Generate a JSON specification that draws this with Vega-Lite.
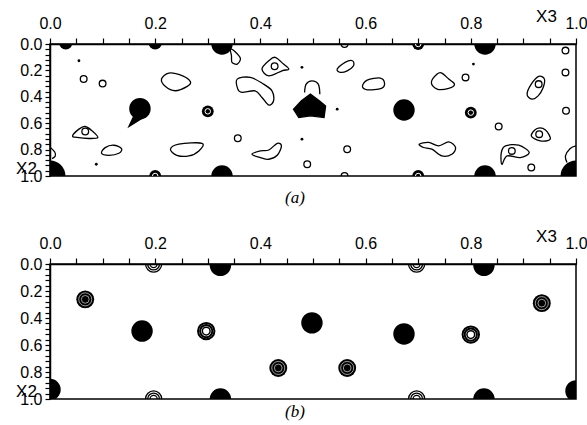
{
  "$schema": "https://vega.github.io/schema/vega-lite/v6.json",
  "background": "white",
  "padding": {"left": 14, "top": 6, "right": 4, "bottom": 2},
  "spacing": 19,
  "config": {
    "view": {"stroke": "black", "strokeWidth": 1.5},
    "axis": {"domainColor": "black", "domainWidth": 1.5, "tickColor": "black", "tickWidth": 1.2, "grid": false,
             "labelFont": "Liberation Sans", "labelFontSize": 16, "labelColor": "black",
             "titleFont": "Liberation Sans", "titleFontSize": 17, "titleFontWeight": "normal", "titleColor": "black"},
    "title": {"font": "Liberation Serif", "fontStyle": "italic", "fontSize": 17, "fontWeight": "normal", "color": "black"}
  },
  "datasets": {
    "polyA": [
      {"p": 3, "o": 1, "x3": 0.212, "x2": 0.265}, {"p": 3, "o": 2, "x3": 0.226, "x2": 0.220}, {"p": 3, "o": 3, "x3": 0.251, "x2": 0.240}, {"p": 3, "o": 4, "x3": 0.267, "x2": 0.286}, {"p": 3, "o": 5, "x3": 0.261, "x2": 0.321}, {"p": 3, "o": 6, "x3": 0.238, "x2": 0.354}, {"p": 3, "o": 7, "x3": 0.219, "x2": 0.320},
      {"p": 4, "o": 1, "x3": 0.356, "x2": 0.266}, {"p": 4, "o": 2, "x3": 0.381, "x2": 0.253}, {"p": 4, "o": 3, "x3": 0.406, "x2": 0.304}, {"p": 4, "o": 4, "x3": 0.422, "x2": 0.355}, {"p": 4, "o": 5, "x3": 0.425, "x2": 0.430}, {"p": 4, "o": 6, "x3": 0.416, "x2": 0.463}, {"p": 4, "o": 7, "x3": 0.403, "x2": 0.405}, {"p": 4, "o": 8, "x3": 0.390, "x2": 0.355}, {"p": 4, "o": 9, "x3": 0.365, "x2": 0.367}, {"p": 4, "o": 10, "x3": 0.357, "x2": 0.342},
      {"p": 5, "o": 1, "x3": 0.343, "x2": 0.038}, {"p": 5, "o": 2, "x3": 0.352, "x2": 0.058}, {"p": 5, "o": 3, "x3": 0.362, "x2": 0.109}, {"p": 5, "o": 4, "x3": 0.356, "x2": 0.152}, {"p": 5, "o": 5, "x3": 0.346, "x2": 0.139}, {"p": 5, "o": 6, "x3": 0.345, "x2": 0.089},
      {"p": 6, "o": 1, "x3": 0.403, "x2": 0.190}, {"p": 6, "o": 2, "x3": 0.416, "x2": 0.127}, {"p": 6, "o": 3, "x3": 0.428, "x2": 0.101}, {"p": 6, "o": 4, "x3": 0.444, "x2": 0.152}, {"p": 6, "o": 5, "x3": 0.454, "x2": 0.190}, {"p": 6, "o": 6, "x3": 0.441, "x2": 0.203}, {"p": 6, "o": 7, "x3": 0.416, "x2": 0.241},
      {"p": 7, "o": 1, "x3": 0.043, "x2": 0.696}, {"p": 7, "o": 2, "x3": 0.055, "x2": 0.645}, {"p": 7, "o": 3, "x3": 0.067, "x2": 0.625}, {"p": 7, "o": 4, "x3": 0.080, "x2": 0.658}, {"p": 7, "o": 5, "x3": 0.091, "x2": 0.708}, {"p": 7, "o": 6, "x3": 0.074, "x2": 0.716}, {"p": 7, "o": 7, "x3": 0.051, "x2": 0.708},
      {"p": 8, "o": 1, "x3": 0.098, "x2": 0.828}, {"p": 8, "o": 2, "x3": 0.105, "x2": 0.785}, {"p": 8, "o": 3, "x3": 0.121, "x2": 0.767}, {"p": 8, "o": 4, "x3": 0.136, "x2": 0.792}, {"p": 8, "o": 5, "x3": 0.131, "x2": 0.828}, {"p": 8, "o": 6, "x3": 0.112, "x2": 0.843},
      {"p": 9, "o": 1, "x3": 0.229, "x2": 0.797}, {"p": 9, "o": 2, "x3": 0.245, "x2": 0.759}, {"p": 9, "o": 3, "x3": 0.289, "x2": 0.752}, {"p": 9, "o": 4, "x3": 0.283, "x2": 0.810}, {"p": 9, "o": 5, "x3": 0.264, "x2": 0.848}, {"p": 9, "o": 6, "x3": 0.241, "x2": 0.843},
      {"p": 11, "o": 1, "x3": 0.384, "x2": 0.835}, {"p": 11, "o": 2, "x3": 0.400, "x2": 0.810}, {"p": 11, "o": 3, "x3": 0.416, "x2": 0.803}, {"p": 11, "o": 4, "x3": 0.432, "x2": 0.752}, {"p": 11, "o": 5, "x3": 0.440, "x2": 0.772}, {"p": 11, "o": 6, "x3": 0.432, "x2": 0.843}, {"p": 11, "o": 7, "x3": 0.416, "x2": 0.873}, {"p": 11, "o": 8, "x3": 0.400, "x2": 0.860},
      {"p": 12, "o": 1, "x3": 0.546, "x2": 0.190}, {"p": 12, "o": 2, "x3": 0.561, "x2": 0.139}, {"p": 12, "o": 3, "x3": 0.575, "x2": 0.127}, {"p": 12, "o": 4, "x3": 0.577, "x2": 0.165}, {"p": 12, "o": 5, "x3": 0.565, "x2": 0.203}, {"p": 12, "o": 6, "x3": 0.552, "x2": 0.215},
      {"p": 13, "o": 1, "x3": 0.594, "x2": 0.321}, {"p": 13, "o": 2, "x3": 0.603, "x2": 0.273}, {"p": 13, "o": 3, "x3": 0.628, "x2": 0.258}, {"p": 13, "o": 4, "x3": 0.636, "x2": 0.296}, {"p": 13, "o": 5, "x3": 0.630, "x2": 0.336}, {"p": 13, "o": 6, "x3": 0.603, "x2": 0.347},
      {"p": 14, "o": 1, "x3": 0.725, "x2": 0.291}, {"p": 14, "o": 2, "x3": 0.736, "x2": 0.228}, {"p": 14, "o": 3, "x3": 0.745, "x2": 0.220}, {"p": 14, "o": 4, "x3": 0.758, "x2": 0.266}, {"p": 14, "o": 5, "x3": 0.769, "x2": 0.304}, {"p": 14, "o": 6, "x3": 0.758, "x2": 0.336}, {"p": 14, "o": 7, "x3": 0.736, "x2": 0.342},
      {"p": 16, "o": 1, "x3": 0.907, "x2": 0.380}, {"p": 16, "o": 2, "x3": 0.915, "x2": 0.304}, {"p": 16, "o": 3, "x3": 0.929, "x2": 0.245}, {"p": 16, "o": 4, "x3": 0.940, "x2": 0.266}, {"p": 16, "o": 5, "x3": 0.937, "x2": 0.336}, {"p": 16, "o": 6, "x3": 0.928, "x2": 0.393}, {"p": 16, "o": 7, "x3": 0.916, "x2": 0.418},
      {"p": 20, "o": 1, "x3": 0.915, "x2": 0.696}, {"p": 20, "o": 2, "x3": 0.926, "x2": 0.640}, {"p": 20, "o": 3, "x3": 0.942, "x2": 0.651}, {"p": 20, "o": 4, "x3": 0.951, "x2": 0.722}, {"p": 20, "o": 5, "x3": 0.932, "x2": 0.734},
      {"p": 22, "o": 1, "x3": 0.702, "x2": 0.759}, {"p": 22, "o": 2, "x3": 0.720, "x2": 0.746}, {"p": 22, "o": 3, "x3": 0.739, "x2": 0.772}, {"p": 22, "o": 4, "x3": 0.758, "x2": 0.742}, {"p": 22, "o": 5, "x3": 0.771, "x2": 0.784}, {"p": 22, "o": 6, "x3": 0.764, "x2": 0.835}, {"p": 22, "o": 7, "x3": 0.745, "x2": 0.848}, {"p": 22, "o": 8, "x3": 0.726, "x2": 0.797}, {"p": 22, "o": 9, "x3": 0.710, "x2": 0.784},
      {"p": 23, "o": 1, "x3": 0.858, "x2": 0.822}, {"p": 23, "o": 2, "x3": 0.866, "x2": 0.772}, {"p": 23, "o": 3, "x3": 0.891, "x2": 0.767}, {"p": 23, "o": 4, "x3": 0.911, "x2": 0.822}, {"p": 23, "o": 5, "x3": 0.894, "x2": 0.860}, {"p": 23, "o": 6, "x3": 0.869, "x2": 0.848}, {"p": 23, "o": 7, "x3": 0.859, "x2": 0.911}
    ],
    "openA": [
      {"p": 27, "o": 1, "x3": 0.484, "x2": 0.367}, {"p": 27, "o": 2, "x3": 0.487, "x2": 0.304}, {"p": 27, "o": 3, "x3": 0.498, "x2": 0.279}, {"p": 27, "o": 4, "x3": 0.510, "x2": 0.304}, {"p": 27, "o": 5, "x3": 0.513, "x2": 0.380},
      {"p": 30, "o": 1, "x3": 0.983, "x2": 0.898}, {"p": 30, "o": 2, "x3": 0.980, "x2": 0.848}, {"p": 30, "o": 3, "x3": 0.989, "x2": 0.792}, {"p": 30, "o": 4, "x3": 1.0, "x2": 0.772},
      {"p": 31, "o": 1, "x3": 0.001, "x2": 0.785}, {"p": 31, "o": 2, "x3": 0.009, "x2": 0.818}, {"p": 31, "o": 3, "x3": 0.010, "x2": 0.848}, {"p": 31, "o": 4, "x3": 0.004, "x2": 0.868}
    ],
    "fillPolyA": [
      {"p": 1, "o": 1, "x3": 0.463, "x2": 0.494}, {"p": 1, "o": 2, "x3": 0.478, "x2": 0.430}, {"p": 1, "o": 3, "x3": 0.495, "x2": 0.380}, {"p": 1, "o": 4, "x3": 0.512, "x2": 0.430}, {"p": 1, "o": 5, "x3": 0.524, "x2": 0.469}, {"p": 1, "o": 6, "x3": 0.521, "x2": 0.557}, {"p": 1, "o": 7, "x3": 0.495, "x2": 0.544}, {"p": 1, "o": 8, "x3": 0.473, "x2": 0.557},
      {"p": 2, "o": 1, "x3": 0.160, "x2": 0.540}, {"p": 2, "o": 2, "x3": 0.176, "x2": 0.560}, {"p": 2, "o": 3, "x3": 0.150, "x2": 0.625}
    ],
    "bigA": [
      {"x3": 0.327, "x2": 0.0}, {"x3": 0.171, "x2": 0.49}, {"x3": 0.673, "x2": 0.50}, {"x3": 0.827, "x2": 0.0},
      {"x3": 0.827, "x2": 1.0}, {"x3": 0.327, "x2": 1.0}
    ],
    "cornerA": [{"x3": 0.0, "x2": 1.0}, {"x3": 1.0, "x2": 1.0}],
    "smallFillA": [{"x3": 0.03, "x2": -0.01}, {"x3": 0.2, "x2": -0.01}],
    "ringBlobA": [{"x3": 0.30, "x2": 0.51}, {"x3": 0.80, "x2": 0.52}, {"x3": 0.70, "x2": 0.0}, {"x3": 0.70, "x2": 1.0}, {"x3": 0.2, "x2": 1.0}],
    "openCircA": [
      {"x3": 0.064, "x2": 0.265}, {"x3": 0.10, "x2": 0.30}, {"x3": 0.357, "x2": 0.714}, {"x3": 0.79, "x2": 0.253},
      {"x3": 0.98, "x2": 0.215}, {"x3": 0.853, "x2": 0.625}, {"x3": 0.565, "x2": 0.797}, {"x3": 0.915, "x2": 0.936},
      {"x3": 0.489, "x2": 0.911}, {"x3": 0.427, "x2": 0.169}, {"x3": 0.067, "x2": 0.663}, {"x3": 0.929, "x2": 0.304},
      {"x3": 0.930, "x2": 0.683}, {"x3": 0.878, "x2": 0.810}, {"x3": 0.98, "x2": 0.05}, {"x3": 0.56, "x2": 1.0},
      {"x3": 0.981, "x2": 0.506}, {"x3": 0.56, "x2": 0.0}
    ],
    "dotA": [
      {"x3": 0.055, "x2": 0.127}, {"x3": 0.088, "x2": 0.911}, {"x3": 0.479, "x2": 0.177}, {"x3": 0.546, "x2": 0.494},
      {"x3": 0.479, "x2": 0.721}, {"x3": 0.805, "x2": 0.152}
    ],
    "bigB": [
      {"x3": 0.324, "x2": 0.01}, {"x3": 0.175, "x2": 0.497}, {"x3": 0.498, "x2": 0.436}, {"x3": 0.673, "x2": 0.518},
      {"x3": 0.825, "x2": 0.01}, {"x3": 0.825, "x2": 1.0}, {"x3": 0.324, "x2": 1.0}, {"x3": 0.0, "x2": 0.93}, {"x3": 1.0, "x2": 0.94}
    ],
    "denseB": [{"x3": 0.067, "x2": 0.262}, {"x3": 0.434, "x2": 0.77}, {"x3": 0.565, "x2": 0.77}, {"x3": 0.935, "x2": 0.29}],
    "hollowB": [{"x3": 0.297, "x2": 0.497}, {"x3": 0.800, "x2": 0.523}],
    "edgeB": [{"x3": 0.197, "x2": 0.0}, {"x3": 0.197, "x2": 1.0}, {"x3": 0.697, "x2": 0.0}, {"x3": 0.697, "x2": 1.0}]
  },
  "vconcat": [
    {
      "width": 526, "height": 132,
      "title": {"text": "(a)", "orient": "bottom", "offset": 6, "dx": -18},
      "encoding": {
        "x": {"field": "x3", "type": "quantitative", "scale": {"domain": [0, 1], "nice": false, "zero": false},
              "axis": {"orient": "top", "title": "X3", "titleX": 496, "titleY": -23, "titleAlign": "center", "titleBaseline": "alphabetic",
                       "values": [0,0.05,0.1,0.15,0.2,0.25,0.3,0.35,0.4,0.45,0.5,0.55,0.6,0.65,0.7,0.75,0.8,0.85,0.9,0.95,1],
                       "labelExpr": "abs(datum.value*5 - round(datum.value*5)) < 0.001 ? format(datum.value, '.1f') : ''",
                       "tickSize": 6, "labelPadding": 7, "labelFlush": false}},
        "y": {"field": "x2", "type": "quantitative", "scale": {"domain": [0, 1], "nice": false, "zero": false, "reverse": true},
              "axis": {"orient": "left", "title": "X2", "titleAngle": 0, "titleX": -24, "titleY": 129, "titleAlign": "center", "titleBaseline": "alphabetic",
                       "values": [0,0.04,0.08,0.12,0.16,0.2,0.24,0.28,0.32,0.36,0.4,0.44,0.48,0.52,0.56,0.6,0.64,0.68,0.72,0.76,0.8,0.84,0.88,0.92,0.96,1],
                       "labelExpr": "abs(datum.value*5 - round(datum.value*5)) < 0.001 ? format(datum.value, '.1f') : ''",
                       "tickSize": 5, "labelPadding": 3, "labelFlush": false}}
      },
      "layer": [
        {"data": {"name": "polyA"}, "mark": {"type": "line", "interpolate": "cardinal-closed", "stroke": "black", "strokeWidth": 1.3},
         "encoding": {"detail": {"field": "p"}, "order": {"field": "o"}}},
        {"data": {"name": "openA"}, "mark": {"type": "line", "interpolate": "cardinal", "stroke": "black", "strokeWidth": 1.3, "clip": true},
         "encoding": {"detail": {"field": "p"}, "order": {"field": "o"}}},
        {"data": {"name": "fillPolyA"}, "mark": {"type": "line", "interpolate": "linear-closed", "stroke": "black", "fill": "black", "strokeWidth": 1.3},
         "encoding": {"detail": {"field": "p"}, "order": {"field": "o"}}},
        {"data": {"name": "bigA"}, "mark": {"type": "point", "shape": "circle", "filled": true, "color": "black", "opacity": 1, "size": 460, "clip": true}},
        {"data": {"name": "cornerA"}, "mark": {"type": "point", "shape": "circle", "filled": true, "color": "black", "opacity": 1, "size": 950, "clip": true}},
        {"data": {"name": "smallFillA"}, "mark": {"type": "point", "shape": "circle", "filled": true, "color": "black", "opacity": 1, "size": 180, "clip": true}},
        {"data": {"name": "ringBlobA"}, "mark": {"type": "point", "shape": "circle", "filled": true, "color": "black", "opacity": 1, "size": 140, "clip": true}},
        {"data": {"name": "ringBlobA"}, "mark": {"type": "point", "shape": "circle", "filled": false, "stroke": "white", "strokeWidth": 1, "opacity": 1, "size": 30, "clip": true}},
        {"data": {"name": "openCircA"}, "mark": {"type": "point", "shape": "circle", "filled": false, "stroke": "black", "strokeWidth": 1.3, "opacity": 1, "size": 45, "clip": true}},
        {"data": {"name": "dotA"}, "mark": {"type": "point", "shape": "circle", "filled": true, "color": "black", "opacity": 1, "size": 8}}
      ]
    },
    {
      "width": 526, "height": 135,
      "title": {"text": "(b)", "orient": "bottom", "offset": -3, "dx": -18},
      "encoding": {
        "x": {"field": "x3", "type": "quantitative", "scale": {"domain": [0, 1], "nice": false, "zero": false},
              "axis": {"orient": "top", "title": "X3", "titleX": 496, "titleY": -23, "titleAlign": "center", "titleBaseline": "alphabetic",
                       "values": [0,0.05,0.1,0.15,0.2,0.25,0.3,0.35,0.4,0.45,0.5,0.55,0.6,0.65,0.7,0.75,0.8,0.85,0.9,0.95,1],
                       "labelExpr": "abs(datum.value*5 - round(datum.value*5)) < 0.001 ? format(datum.value, '.1f') : ''",
                       "tickSize": 6, "labelPadding": 7, "labelFlush": false}},
        "y": {"field": "x2", "type": "quantitative", "scale": {"domain": [0, 1], "nice": false, "zero": false, "reverse": true},
              "axis": {"orient": "left", "title": "X2", "titleAngle": 0, "titleX": -24, "titleY": 132, "titleAlign": "center", "titleBaseline": "alphabetic",
                       "values": [0,0.04,0.08,0.12,0.16,0.2,0.24,0.28,0.32,0.36,0.4,0.44,0.48,0.52,0.56,0.6,0.64,0.68,0.72,0.76,0.8,0.84,0.88,0.92,0.96,1],
                       "labelExpr": "abs(datum.value*5 - round(datum.value*5)) < 0.001 ? format(datum.value, '.1f') : ''",
                       "tickSize": 5, "labelPadding": 3, "labelFlush": false}}
      },
      "layer": [
        {"data": {"name": "bigB"}, "mark": {"type": "point", "shape": "circle", "filled": true, "color": "black", "opacity": 1, "size": 460, "clip": true}},
        {"data": {"name": "denseB"}, "mark": {"type": "point", "shape": "circle", "filled": true, "color": "black", "opacity": 1, "size": 320, "clip": true}},
        {"data": {"name": "denseB"}, "mark": {"type": "point", "shape": "circle", "filled": false, "stroke": "white", "strokeWidth": 0.6, "opacity": 1, "size": 170, "clip": true}},
        {"data": {"name": "denseB"}, "mark": {"type": "point", "shape": "circle", "filled": false, "stroke": "white", "strokeWidth": 0.6, "opacity": 1, "size": 60, "clip": true}},
        {"data": {"name": "hollowB"}, "mark": {"type": "point", "shape": "circle", "filled": false, "stroke": "black", "strokeWidth": 2, "opacity": 1, "size": 270, "clip": true}},
        {"data": {"name": "hollowB"}, "mark": {"type": "point", "shape": "circle", "filled": false, "stroke": "black", "strokeWidth": 2, "opacity": 1, "size": 150, "clip": true}},
        {"data": {"name": "hollowB"}, "mark": {"type": "point", "shape": "circle", "filled": false, "stroke": "black", "strokeWidth": 1.5, "opacity": 1, "size": 60, "clip": true}},
        {"data": {"name": "edgeB"}, "mark": {"type": "point", "shape": "circle", "filled": false, "stroke": "black", "strokeWidth": 1.3, "opacity": 1, "size": 260, "clip": true}},
        {"data": {"name": "edgeB"}, "mark": {"type": "point", "shape": "circle", "filled": false, "stroke": "black", "strokeWidth": 1.3, "opacity": 1, "size": 140, "clip": true}},
        {"data": {"name": "edgeB"}, "mark": {"type": "point", "shape": "circle", "filled": false, "stroke": "black", "strokeWidth": 1.3, "opacity": 1, "size": 50, "clip": true}}
      ]
    }
  ]
}
